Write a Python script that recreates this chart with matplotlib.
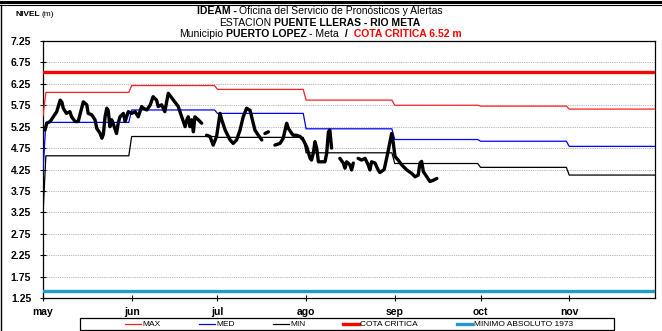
import numpy as np
import matplotlib
matplotlib.use("Agg")
import matplotlib.pyplot as plt
from matplotlib.lines import Line2D
from matplotlib.patches import Rectangle

plt.rcParams['font.family'] = ['Liberation Sans', 'DejaVu Sans']

# eje x: dias contados desde el 1 de mayo
inicio_mes = [0, 31, 61, 92, 123, 153, 184, 214]
meses = ['may', 'jun', 'jul', 'ago', 'sep', 'oct', 'nov']

# niveles historicos mensuales (primer dia aparte)
max_mes = [6.05, 6.21, 6.12, 5.87, 5.75, 5.73, 5.66]
med_mes = [5.35, 5.64, 5.56, 5.20, 4.95, 4.91, 4.79]
min_mes = [4.57, 5.02, 5.00, 4.64, 4.39, 4.30, 4.12]
max_dia1, med_dia1, min_dia1 = 5.50, 4.20, 3.20

cota_critica = 6.52
minimo_absoluto = 1.42

# nivel observado (nan = sin dato)
dia_obs = [0.7, 1.3, 2.5, 3.6, 4.8, 6.0, 6.6, 7.1, 8.2, 9.4,
           10.0, 11.2, 12.3, 13.5, 14.1, 15.3, 15.8, 17.0, 18.2, 18.8,
           20.0, 20.6, 21.1, 21.7, 22.3, 22.8, 23.4, 24.0, 24.5, 25.7,
           26.3, 26.9, 28.1, 28.7, 29.8, 31.0, 32.2, 33.3, 34.5, 35.1,
           36.3, 37.5, 38.5, 39.7, 40.3, 41.5, 42.6, 43.8, 45.6, 47.3,
           48.5, 49.7, 50.3, 50.8, 51.4, 52.0, 52.6, 53.1, 54.3, 55.5,
           56.3,
           57.2, 58.4, 59.5, 60.7, 61.9, 62.5, 63.7, 65.4, 66.5, 67.7,
           68.9, 70.0, 71.2, 72.4, 73.5, 74.1, 75.3, 76.5,
           77.0,
           77.6, 78.8,
           80.0,
           81.1, 82.9, 84.0, 85.2, 85.8, 87.0, 87.5, 88.7, 89.9, 91.0,
           92.2, 93.4, 93.9, 94.5, 95.1, 95.7, 96.3, 97.4, 98.6, 99.2,
           99.8, 100.3, 100.9,
           102.0,
           103.8, 105.0, 105.6, 106.2, 107.3, 107.9, 108.5,
           109.3,
           110.2, 111.4, 112.6, 113.7, 114.3, 114.9, 116.1, 117.2, 117.8, 119.3,
           120.6, 121.9, 122.5, 123.1, 124.2, 125.4, 127.2, 128.9, 130.1, 131.2,
           131.8, 132.4, 133.0, 134.2, 135.3, 136.5, 137.7]
nivel_obs = [5.17, 5.33, 5.37, 5.48, 5.60, 5.87, 5.82, 5.68, 5.56, 5.60,
             5.48, 5.37, 5.37, 5.68, 5.83, 5.76, 5.56, 5.53, 5.41, 5.21,
             5.09, 4.98, 5.07, 5.48, 5.68, 5.63, 5.25, 5.41, 5.33, 5.09,
             5.33, 5.48, 5.56, 5.37, 5.60, 5.56, 5.60, 5.48, 5.72, 5.68,
             5.64, 5.76, 5.95, 5.87, 5.72, 5.76, 5.60, 6.03, 5.87, 5.72,
             5.48, 5.25, 5.41, 5.48, 5.25, 5.41, 5.13, 5.48, 5.41, 5.33,
             np.nan,
             5.05, 5.02, 4.82, 5.02, 5.56, 5.41, 5.17, 4.94, 4.86, 4.94,
             5.17, 5.48, 5.68, 5.63, 5.33, 5.17, 5.05, 4.94,
             np.nan,
             5.09, 5.13,
             np.nan,
             4.82, 4.86, 4.98, 5.33, 5.21, 5.09, 5.05, 5.05, 5.02, 4.94,
             4.78, 4.51, 4.47, 4.63, 4.90, 4.75, 4.43, 4.43, 4.43, 4.63,
             5.13, 5.17, 4.75,
             np.nan,
             4.51, 4.40, 4.28, 4.43, 4.36, 4.24, 4.40,
             np.nan,
             4.51, 4.47, 4.51, 4.36, 4.24, 4.43, 4.40, 4.24, 4.18, 4.25,
             4.65, 5.09, 4.86, 4.55, 4.47, 4.36, 4.24, 4.16, 4.08, 4.12,
             4.40, 4.44, 4.20, 4.08, 3.97, 4.00, 4.04]


def escalones(dia1, valores):
    # curva mensual con el primer dia aparte y transicion de un dia
    xs, ys = [0], [dia1]
    for i, v in enumerate(valores):
        x0 = max(inicio_mes[i], 1)
        x1 = inicio_mes[i + 1] - 1 if i < len(valores) - 1 else inicio_mes[-1]
        xs += [x0, x1]
        ys += [v, v]
    return xs, ys


fig = plt.figure(figsize=(6.62, 3.31), dpi=100)
ax = fig.add_axes([43 / 662, 1 - 298 / 331, 612 / 662, 257 / 331])

ax.set_xlim(0, 214)
ax.set_ylim(1.25, 7.25)
yt = np.arange(1.25, 7.26, 0.5)
ax.set_yticks(yt)
ax.set_yticklabels(['%.2f' % v for v in yt])
ax.set_xticks(inicio_mes[:-1])
ax.set_xticklabels(meses)
for v in yt[1:-1]:
    ax.axhline(v, color='#9a9a9a', lw=0.6, ls=(0, (1, 1.2)), zorder=1)

ax.tick_params(axis='both', direction='inout', length=5, width=0.8, labelsize=7.5)
ax.tick_params(axis='y', pad=6)
ax.tick_params(axis='x', pad=4)
for lab in ax.get_xticklabels() + ax.get_yticklabels():
    lab.set_fontweight('bold')
for s in ax.spines.values():
    s.set_linewidth(0.9)

ax.axhline(cota_critica, color='#ff0000', lw=2.4, zorder=3)
ax.axhline(minimo_absoluto, color='#1f9bd0', lw=2.4, zorder=3)

x, y = escalones(max_dia1, max_mes)
ax.plot(x, y, color='#ff2020', lw=0.9, zorder=4)
x, y = escalones(med_dia1, med_mes)
ax.plot(x, y, color='#0000ff', lw=0.9, zorder=4)
x, y = escalones(min_dia1, min_mes)
ax.plot(x, y, color='black', lw=0.9, zorder=4)

ax.plot(dia_obs, nivel_obs, color='black', lw=2.4, solid_joinstyle='round',
        solid_capstyle='round', zorder=5)

# titulo con partes en negrita
renderer = fig.canvas.get_renderer()
W = fig.bbox.width
H = fig.bbox.height


def texto_mixto(xc, yp, partes, size=7.5, espacio=2.5, centrado=True):
    objs = []
    total = 0
    for txt, peso, color in partes:
        t = fig.text(0, 1 - yp / H, txt, fontsize=size, fontweight=peso,
                     color=color, ha='left', va='center')
        w = t.get_window_extent(renderer).width
        objs.append((t, w))
        total += w
    total += espacio * (len(partes) - 1)
    xp = xc - total / 2 if centrado else xc
    for t, w in objs:
        t.set_x(xp / W)
        xp += w + espacio


texto_mixto(320, 11, [('IDEAM -', 'bold', 'black'),
                      ('Oficina del Servicio de Pronósticos y Alertas', 'normal', 'black')])
texto_mixto(320, 22.5, [('ESTACION', 'normal', 'black'),
                        ('PUENTE LLERAS - RIO META', 'bold', 'black')])
texto_mixto(320, 34, [('Municipio', 'normal', 'black'),
                      ('PUERTO LOPEZ', 'bold', 'black'),
                      ('- Meta', 'normal', 'black'),
                      (' /', 'bold', 'black'),
                      (' COTA CRITICA 6.52 m', 'bold', '#ff0000')], espacio=3)

texto_mixto(15, 15, [('NIVEL', 'bold', 'black'), ('(m)', 'normal', 'black')],
            size=6, espacio=2, centrado=False)

# marco de la figura
fig.add_artist(Line2D([0, 1], [1 - 1.5 / H, 1 - 1.5 / H], color='black', lw=2.2))
fig.add_artist(Line2D([0, 1], [1 - 4.5 / H, 1 - 4.5 / H], color='black', lw=0.8))
fig.add_artist(Line2D([1.2 / W, 1.2 / W], [0, 1 - 4.5 / H], color='black', lw=1.0))

# leyenda
handles = [Line2D([], [], color='#ff2020', lw=0.9),
           Line2D([], [], color='#0000ff', lw=0.9),
           Line2D([], [], color='black', lw=0.9),
           Line2D([], [], color='#ff0000', lw=2.4),
           Line2D([], [], color='#1f9bd0', lw=2.4)]
labels = ['MAX', 'MED', 'MIN', 'COTA CRITICA', 'MINIMO ABSOLUTO 1973']
fig.legend(handles, labels, loc='center', bbox_to_anchor=(349 / W, 1 - 324.5 / H),
           ncol=5, frameon=False, fontsize=6, handlelength=1.9, handletextpad=0.15,
           columnspacing=4.6, borderpad=0)
fig.add_artist(Rectangle((80 / W, 0.6 / H), 534 / W, 12.5 / H, transform=fig.transFigure,
                         fill=False, edgecolor='black', lw=0.9))

fig.savefig('out.png', dpi=100)
